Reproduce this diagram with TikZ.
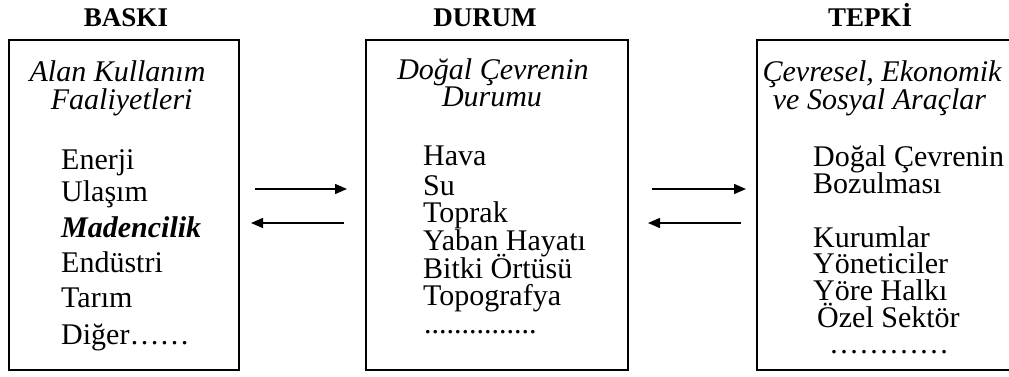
\documentclass[tikz,border=0pt]{standalone}
\usepackage{fontspec}
\setmainfont{Liberation Serif}
\usetikzlibrary{arrows.meta}
\tikzset{
  boxframe/.style={draw, line width=1.5pt, inner sep=0pt},
  ttl/.style={font=\fontsize{27}{30}\selectfont\bfseries, anchor=base, inner sep=0pt},
  hdr/.style={font=\fontsize{30}{33}\selectfont\itshape, anchor=base, inner sep=0pt, text height=20pt, text depth=5pt},
  item/.style={font=\fontsize{30}{33}\selectfont, anchor=base west, inner sep=0pt, text height=20pt, text depth=5pt},
  link/.style={line width=1.5pt, -{Triangle[length=12pt,width=10pt]}}
}
\begin{document}
\begin{tikzpicture}[x=1pt,y=-1pt]
\useasboundingbox (0,0) rectangle (1009,377);
% boxes
\node[boxframe, minimum width=230pt, minimum height=330pt] (b1) at (124,205) {};
\node[boxframe, minimum width=262pt, minimum height=330pt] (b2) at (497,205) {};
\draw[line width=1.5pt] (1012,40) -- (757,40) -- (757,370) -- (1012,370);
\coordinate (b3w) at (757,205);
% titles
\node[ttl] (t1) at (126,27) {BASKI};
\node[ttl] (t2) at (485,27) {DURUM};
\node[ttl] (t3) at (870,27) {TEPKİ};
% box 1
\node[hdr] (h1a) at (117.5,82) {Alan Kullanım};
\node[hdr] (h1b) at (121.7,110) {Faaliyetleri};
\node[item] (e1) at (61,169) {Enerji};
\node[item] (e2) at (61,201) {Ulaşım};
\node[item, font=\fontsize{30}{33}\selectfont\bfseries\itshape] (e3) at (61,237) {Madencilik};
\node[item] (e4) at (61,272) {Endüstri};
\node[item] (e5) at (61,307) {Tarım};
\node[item] (e6) at (61,344) {Diğer……};
% box 2
\node[hdr] (h2a) at (493,80) {Doğal Çevrenin};
\node[hdr] (h2b) at (492,107) {Durumu};
\node[item] (d1) at (423,165) {Hava};
\node[item] (d2) at (423,195) {Su};
\node[item] (d3) at (423,222) {Toprak};
\node[item] (d4) at (423,250) {Yaban Hayatı};
\node[item] (d5) at (423,278) {Bitki Örtüsü};
\node[item] (d6) at (423,305) {Topografya};
\node[item] (d7) at (424,333) {...............};
% box 3
\node[hdr] (h3a) at (882,82) {Çevresel, Ekonomik};
\node[hdr] (h3b) at (879.5,110) {ve Sosyal Araçlar};
\node[item] (r1) at (813,167) {Doğal Çevrenin};
\node[item] (r2) at (813,193) {Bozulması};
\node[item] (r3) at (813,247) {Kurumlar};
\node[item] (r4) at (813,273) {Yöneticiler};
\node[item] (r5) at (813,300) {Yöre Halkı};
\node[item] (r6) at (817,327) {Özel Sektör};
\node[item] (r7) at (829,353) {…………};
% arrows
\coordinate (a1s) at (255,189);
\coordinate (a1e) at (347,189);
\coordinate (a2s) at (344,223);
\coordinate (a2e) at (251,223);
\coordinate (a3s) at (652,189);
\coordinate (a3e) at (746,189);
\coordinate (a4s) at (741,223);
\coordinate (a4e) at (648,223);
\draw[link] (a1s) -- (a1e);
\draw[link] (a2s) -- (a2e);
\draw[link] (a3s) -- (a3e);
\draw[link] (a4s) -- (a4e);
\end{tikzpicture}
\end{document}
